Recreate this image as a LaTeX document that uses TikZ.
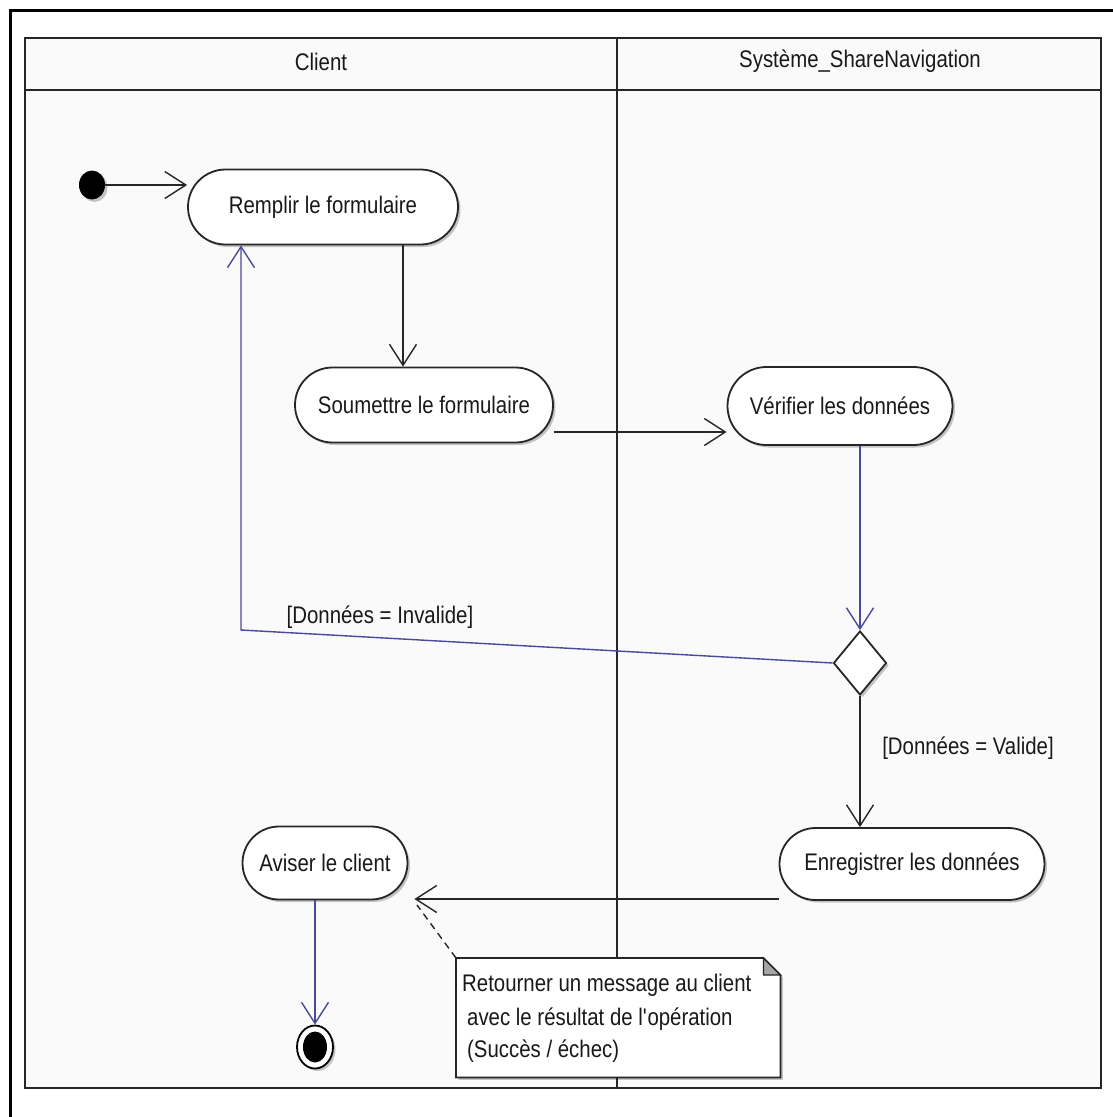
\documentclass[tikz,border=0pt]{standalone}
\usepackage{fontspec}
\setmainfont{Liberation Sans}[FakeStretch=0.85]
\usetikzlibrary{arrows.meta,shapes.misc,shapes.geometric,shadows,calc}
\definecolor{ink}{HTML}{262626}
\definecolor{flowblue}{HTML}{4A4A9C}
\definecolor{lanebg}{HTML}{FAFAFA}
\begin{document}
\begin{tikzpicture}[x=1pt,y=-1pt,
  font=\fontsize{24}{28}\selectfont, text=black!90,
  softshadow/.style={drop shadow={shadow xshift=2.5pt,shadow yshift=-2.5pt,fill=black,opacity=0.22}},
  action/.style={rounded rectangle, draw=ink, line width=1.8pt, fill=white, softshadow, inner sep=0pt},
  flow/.style={draw=ink, line width=1.4pt, -{Straight Barb[length=21pt,width=27pt,line width=1.4pt]}},
  guard/.style={flow, draw=flowblue},
  lane/.style={draw=ink, line width=1.9pt},
  notetxt/.style={anchor=base west, inner sep=0pt}
]
\useasboundingbox (0,0) rectangle (1113,1117);
\fill[white] (0,0) rectangle (1113,1117);
% outer frame
\draw[black, line width=3pt] (10,1120) -- (10,10) -- (1116,10);

% swimlanes
\draw[lane, fill=lanebg] (25,38) rectangle (1101,1088);
\draw[lane] (25,90) -- (1101,90);
\draw[lane] (617,38) -- (617,1088);
\node (laneA) at (321,62) {Client};
\node (laneB) at (860,61) {Système\_ShareNavigation};

% activities
\node[action, minimum width=270pt, minimum height=75pt] (fill) at (323,207) {Remplir le formulaire};
\node[action, minimum width=258pt, minimum height=75pt] (submit) at (424,405) {Soumettre le formulaire};
\node[action, minimum width=225pt, minimum height=78pt] (check) at (840,406) {Vérifier les données};
\node[action, minimum width=265pt, minimum height=72pt] (save) at (912,864) {Enregistrer les données};
\node[action, minimum width=165pt, minimum height=73pt] (notify) at (325,863) {Aviser le client};

% decision
\node[diamond, draw=ink, line width=1.8pt, fill=white, softshadow, inner sep=0pt,
      minimum width=53pt, minimum height=64pt] (dec) at (860,663) {};

% initial and final states
\node[ellipse, fill=black, inner sep=0pt, minimum width=26pt, minimum height=29pt, softshadow] (start) at (92,185) {};
\node[ellipse, draw=black, line width=1.8pt, fill=white, inner sep=0pt, minimum width=36pt, minimum height=43pt, softshadow] (end) at (315,1047) {};
\node[ellipse, fill=black, inner sep=0pt, minimum width=24pt, minimum height=31pt] (endcore) at (end) {};

% note
\node[anchor=north west, inner sep=0pt, minimum width=324pt, minimum height=119pt] (note) at (456,958) {};
\draw[ink, line width=1.8pt, fill=white, softshadow]
  (note.north west) -- ([xshift=-17pt]note.north east) -- ([yshift=-17pt]note.north east)
  -- (note.south east) -- (note.south west) -- cycle;
\draw[ink, line width=1.3pt, fill=black!35]
  ([xshift=-17pt]note.north east) -- ([xshift=-17pt,yshift=-17pt]note.north east)
  -- ([yshift=-17pt]note.north east) -- cycle;
\node[notetxt] (noteA) at (462,991) {Retourner un message au client};
\node[notetxt] (noteB) at (467,1025) {avec le résultat de l\textquotesingle opération};
\node[notetxt] (noteC) at (467,1057) {(Succès / échec)};

% transitions
\draw[flow] (start) -- (fill.west |- start);
\coordinate (a1) at ([xshift=80pt]fill.south);
\draw[flow] (a1) -- (a1 |- submit.north);
\coordinate (a2) at ([yshift=-27pt]submit.east);
\draw[flow] (a2) -- (a2 -| check.west);
\draw[guard] (dec.north |- check.south) -- (dec.north);
\coordinate (bend) at (241,630);
\draw[guard] (dec.west) -- (bend) -- (bend |- fill.south);
\node (inv) at (380,617) {[Données = Invalide]};
\draw[flow] (dec.south) -- (dec.south |- save.north);
\node (val) at (968,748) {[Données = Valide]};
\coordinate (a4) at ([yshift=-35pt]save.west);
\coordinate (a4end) at ([xshift=6pt]notify.east);
\draw[flow] (a4) -- (a4 -| a4end);
\coordinate (a5) at ([xshift=-10pt]notify.south);
\draw[guard] (a5) -- (end.north);
\coordinate (link) at (417,905);
\draw[ink, line width=1.4pt, dash pattern=on 7pt off 5pt] (note.north west) -- (link);
\end{tikzpicture}
\end{document}
